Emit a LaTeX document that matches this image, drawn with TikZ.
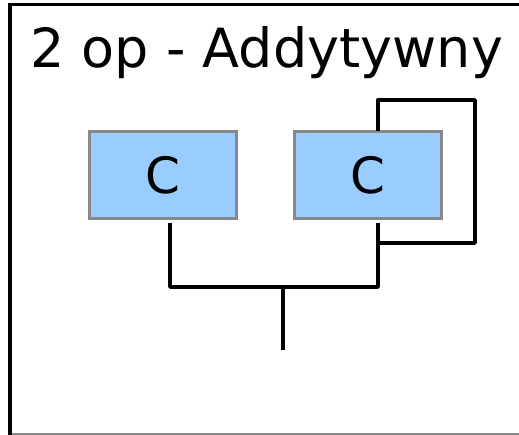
\documentclass[tikz,border=0pt]{standalone}
\usepackage{fontspec}
\setmainfont{DejaVu Sans}
\definecolor{boxfill}{HTML}{99CCFF}
\definecolor{boxedge}{HTML}{888888}
\definecolor{frameb}{HTML}{888888}
\begin{document}
\begin{tikzpicture}[x=1bp,y=-1bp,
  cbox/.style={draw=boxedge,line width=3bp,fill=boxfill,minimum width=147bp,minimum height=87bp,inner sep=0pt,font=\fontsize{50bp}{56bp}\selectfont},
  wire/.style={line width=3.4bp,line join=round,black}]
\useasboundingbox (0,0) rectangle (519,435);
\fill[white] (0,0) rectangle (519,435);
% frame
\draw[line width=1.5bp,frameb] (10,434) -- (530,434);
\draw[line width=3.5bp,black] (10,436) -- (10,4.5) -- (530,4.5);
\node[anchor=base west,inner sep=0pt,font=\fontsize{54bp}{60bp}\selectfont] (title) at (30,68) {2 op - Addytywny};
% boxes
\node[cbox] (c1) at (163,175) {C};
\node[cbox] (c2) at (368,175) {C};
% connectors
\coordinate (j1) at (170,287);
\coordinate (j2) at (378,287);
\coordinate (m) at (283,287);
\coordinate (out) at (283,350);
\coordinate (l1) at (170,223);
\coordinate (r1) at (378,223);
\coordinate (fb) at (378,243);
\coordinate (fr) at (475,243);
\coordinate (tr) at (475,100);
\coordinate (tl) at (378,100);
\coordinate (tin) at (378,131);
\draw[wire] (l1) -- (j1) -- (j2) -- (r1);
\draw[wire] (m) -- (out);
\draw[wire] (fb) -- (fr) -- (tr) -- (tl) -- (tin);
\end{tikzpicture}
\end{document}
